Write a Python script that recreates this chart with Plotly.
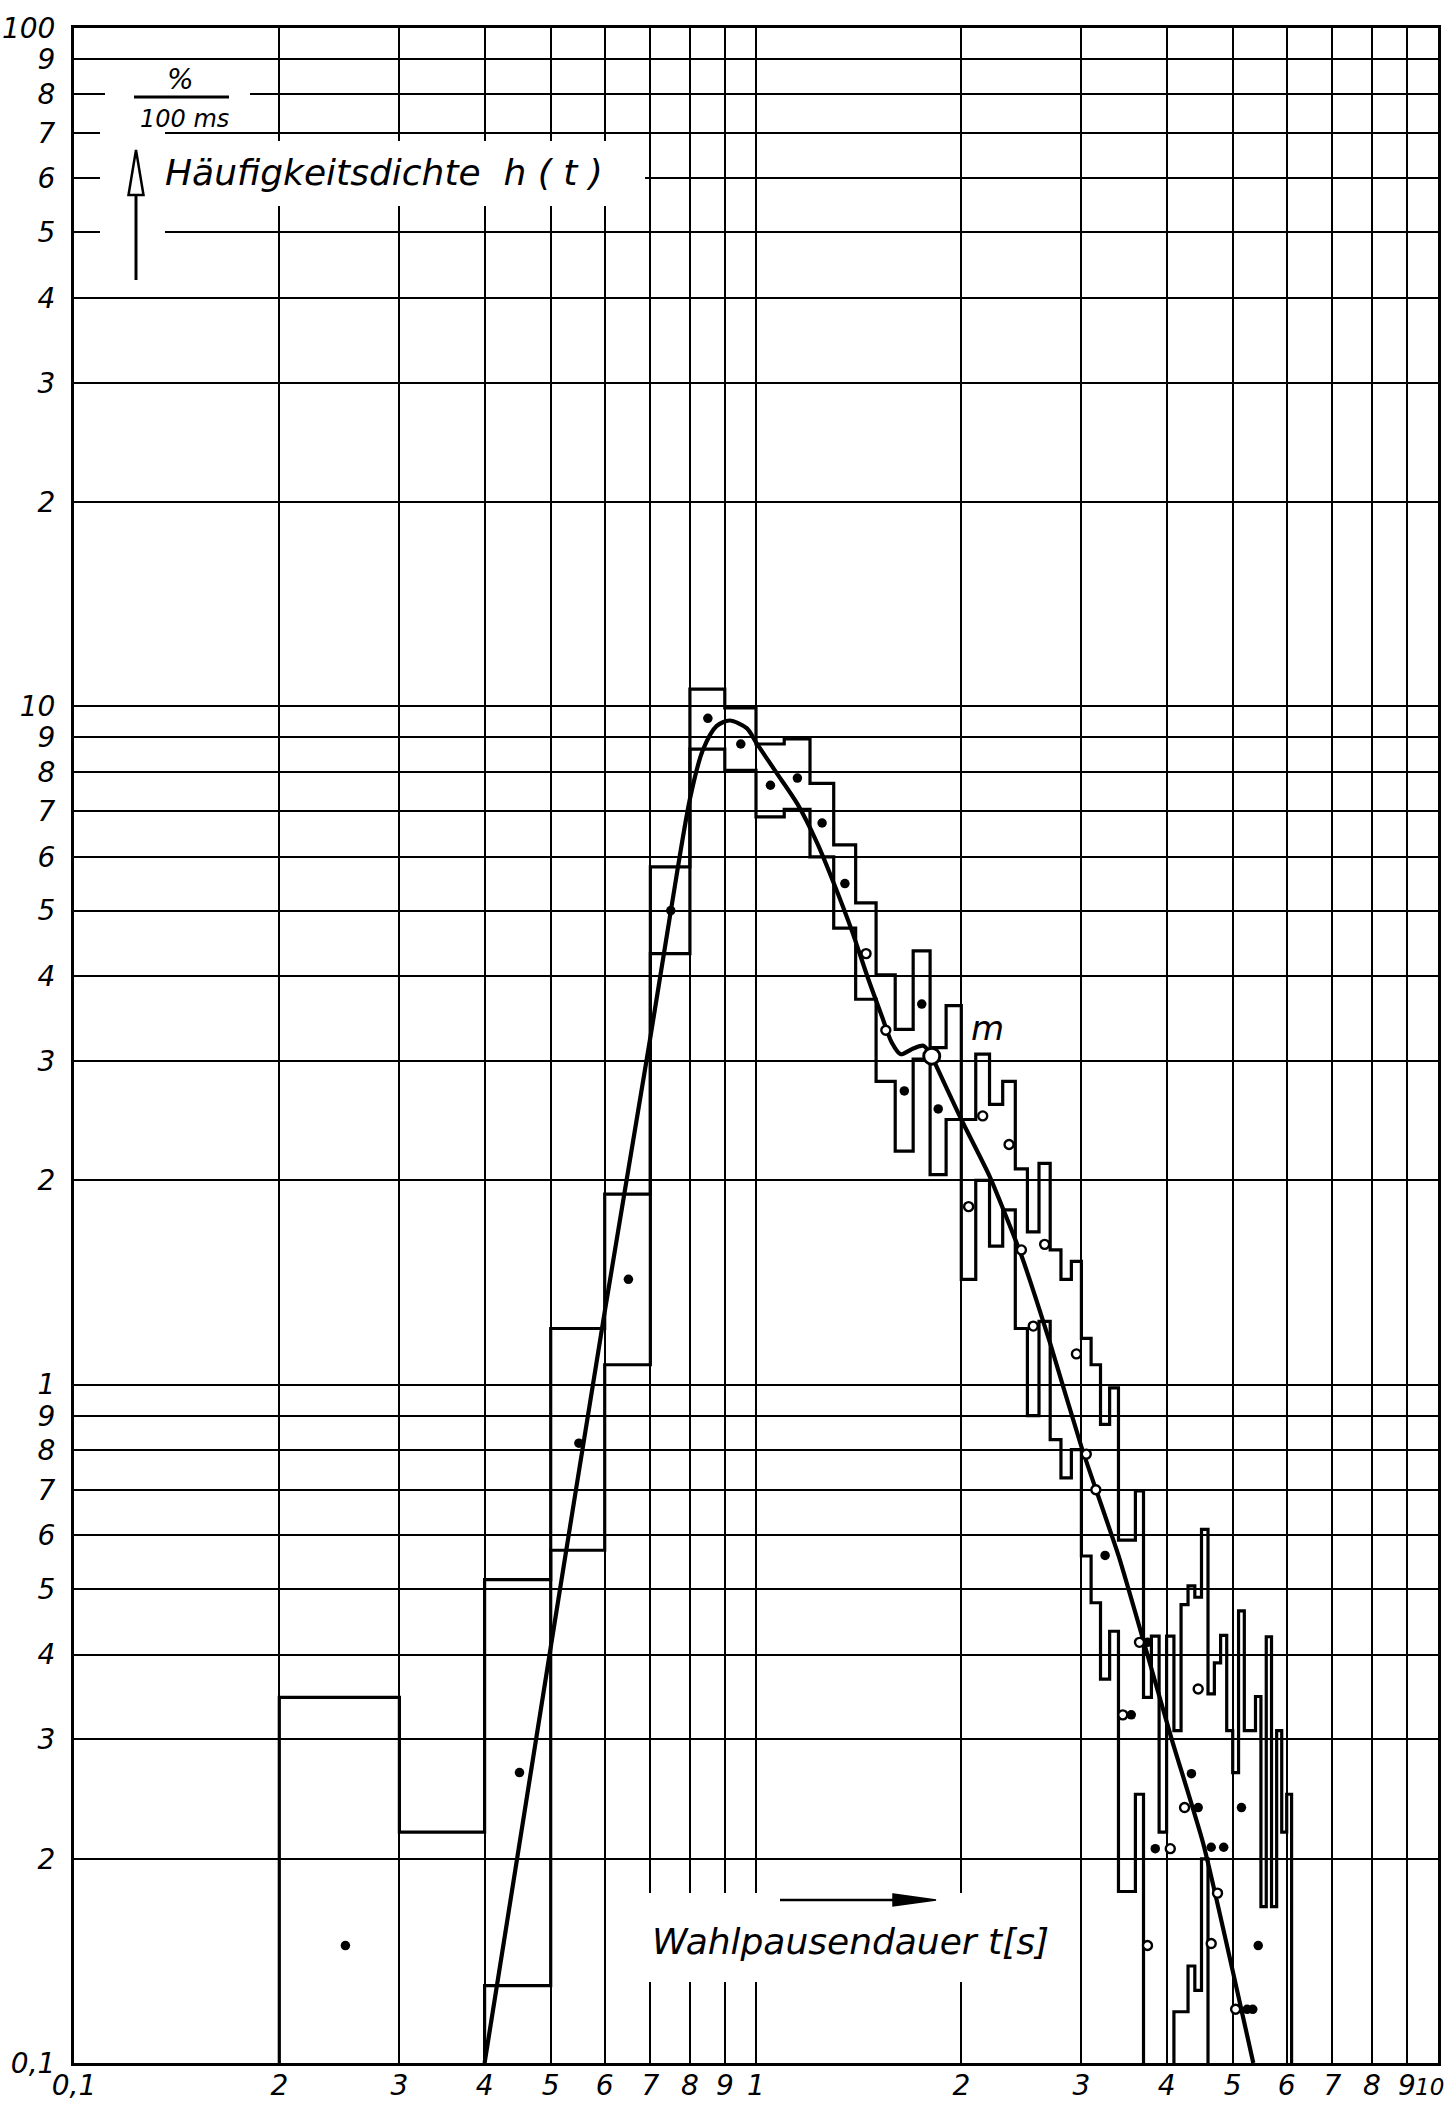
import numpy as np
import plotly.graph_objects as go

# ---------------- data ----------------
# histogram classes of 100 ms, first class starts at 0.2 s
class_start = 0.2
class_width = 0.1

# upper step line (per class)
upper_bound = [0.346, 0.219, 0.516, 1.21, 1.91, 5.8, 10.6, 9.95, 8.8, 8.95,
               7.7, 6.25, 5.13, 4.02, 3.34, 4.36, 3.14, 3.62, 2.46, 3.07,
               2.59, 2.8, 2.08, 1.68, 2.12, 1.58, 1.43, 1.52, 1.17, 1.07,
               0.874, 0.989, 0.59, 0.59, 0.697, 0.346, 0.426, 0.219, 0.426, 0.309,
               0.474, 0.505, 0.486, 0.612, 0.35, 0.389, 0.427, 0.309, 0.268, 0.464,
               0.309, 0.309, 0.347, 0.17, 0.425, 0.17, 0.309, 0.219, 0.249]

# lower step line (per class, 0 = no occurrence)
lower_bound = [0, 0, 0.13, 0.57, 1.07, 4.32, 8.65, 8.05, 6.87, 7.05,
               6.0, 4.71, 3.7, 2.8, 2.21, 3.02, 2.04, 2.46, 1.43, 2.0,
               1.6, 1.81, 1.21, 0.9, 1.24, 0.83, 0.729, 0.802, 0.559, 0.477,
               0.368, 0.433, 0.179, 0.179, 0.249, 0, 0, 0, 0, 0.119,
               0.119, 0.139, 0.128, 0.2, 0, 0, 0, 0, 0, 0,
               0, 0, 0, 0, 0, 0, 0, 0, 0]

# measured points
pts_filled_t = [0.25, 0.45, 0.55, 0.65, 0.75, 0.85, 0.95, 1.05, 1.15, 1.25, 1.35,
                1.65, 1.75, 1.85, 3.25, 3.55, 3.75, 3.85, 4.35, 4.45, 4.65, 4.85,
                5.15, 5.45, 5.25, 5.35]
pts_filled_v = [0.149, 0.268, 0.82, 1.43, 5.0, 9.6, 8.8, 7.65, 7.84, 6.73, 5.48,
                2.71, 3.64, 2.55, 0.56, 0.326, 0.417, 0.207, 0.267, 0.238, 0.208, 0.208,
                0.238, 0.149, 0.12, 0.12]
pts_open_t = [1.45, 1.55, 2.05, 2.15, 2.35, 2.45, 2.55, 2.65, 2.95, 3.05, 3.15,
              3.45, 3.65, 4.05, 4.25, 4.45, 4.75, 3.75, 4.65, 5.05]
pts_open_v = [4.32, 3.33, 1.83, 2.49, 2.26, 1.58, 1.22, 1.61, 1.11, 0.79, 0.70,
              0.326, 0.417, 0.207, 0.238, 0.356, 0.178, 0.149, 0.15, 0.12]

# fitted density curve h(t)
fit_t = [0.40, 0.50, 0.60, 0.70, 0.75, 0.80, 0.835, 0.875, 0.915, 0.97, 1.00,
         1.07, 1.15, 1.23, 1.30, 1.38, 1.46, 1.53, 1.58, 1.63, 1.70, 1.76, 1.81]
fit_v = [0.10, 0.41, 1.28, 3.25, 4.99, 7.3, 8.6, 9.35, 9.53, 9.28, 8.85,
         8.0, 7.18, 6.28, 5.49, 4.69, 3.97, 3.49, 3.2, 3.07, 3.13, 3.16, 3.05]
tail_t = [1.81, 2.0, 2.2, 2.45, 2.7, 3.0, 3.4, 3.71, 4.07, 4.53, 5.36]
tail_v = [3.05, 2.46, 2.03, 1.55, 1.15, 0.81, 0.56, 0.415, 0.30, 0.21, 0.10]

# median point m
m_t = [1.81]
m_v = [3.05]

x_tickvals = [0.1, 0.2, 0.3, 0.4, 0.5, 0.6, 0.7, 0.8, 0.9, 1, 2, 3, 4, 5, 6, 7, 8, 9, 10]
x_ticktext = ["0,1", "2", "3", "4", "5", "6", "7", "8", "9", "1", "2", "3", "4", "5",
              "6", "7", "8", "9", "10"]
y_tickvals = [0.1, 0.2, 0.3, 0.4, 0.5, 0.6, 0.7, 0.8, 0.9, 1, 2, 3, 4, 5, 6, 7, 8, 9,
              10, 20, 30, 40, 50, 60, 70, 80, 90, 100]
y_ticktext = ["0,1", "2", "3", "4", "5", "6", "7", "8", "9", "1", "2", "3", "4", "5",
              "6", "7", "8", "9", "10", "2", "3", "4", "5", "6", "7", "8", "9", "100"]

# ---------------- figure ----------------
W, H = 1447, 2108
L_PX, R_PX, T_PX, B_PX = 74, 1438, 28, 2063
FONT = "DejaVu Sans"
X_DEC = (R_PX - L_PX) / 2.0
Y_DEC = (B_PX - T_PX) / 3.0


def step_xy(vals):
    n = len(vals)
    edges = [round(class_start + i * class_width, 3) for i in range(n + 1)]
    floor = 0.03
    v = [a if a > 0 else floor for a in vals]
    xs = [edges[0]] + edges[:n] + [edges[n], edges[n]]
    ys = [floor] + v + [v[-1], floor]
    return xs, ys


# layout helpers: reference pixel -> log10 axis value
def lx(px):
    return (px - L_PX) / X_DEC - 1.0


def ly(py):
    return 2.0 - (py - T_PX) / Y_DEC


def sx(px):
    return float(10 ** lx(px))


def sy(py):
    return float(10 ** ly(py))


fig = go.Figure()

for vals in (upper_bound, lower_bound):
    xs, ys = step_xy(vals)
    fig.add_trace(go.Scatter(x=xs, y=ys, mode="lines", line_shape="hv",
                             line=dict(color="black", width=3.2), hoverinfo="skip"))

fig.add_trace(go.Scatter(x=fit_t, y=fit_v, mode="lines", line_shape="spline",
                         line=dict(color="black", width=4.2, smoothing=0.8)))
fig.add_trace(go.Scatter(x=tail_t, y=tail_v, mode="lines", line_shape="spline",
                         line=dict(color="black", width=4.2, smoothing=0.5)))

fig.add_trace(go.Scatter(x=pts_filled_t, y=pts_filled_v, mode="markers",
                         marker=dict(color="black", size=9.5, symbol="circle")))
fig.add_trace(go.Scatter(x=pts_open_t, y=pts_open_v, mode="markers",
                         marker=dict(color="white", size=9, symbol="circle",
                                     line=dict(color="black", width=2.4))))
fig.add_trace(go.Scatter(x=m_t, y=m_v, mode="markers",
                         marker=dict(color="white", size=16, symbol="circle",
                                     line=dict(color="black", width=3))))

axis_common = dict(type="log", showgrid=True, gridcolor="black", gridwidth=2,
                   showline=True, linecolor="black", linewidth=3, mirror=True,
                   ticks="", zeroline=False, automargin=False,
                   tickfont=dict(family=FONT, size=28, color="black", style="italic"))

x_ticktext_axis = x_ticktext[:-1] + [""]   # last label drawn inside the page below
fig.update_xaxes(range=[-1, 1], tickmode="array", tickvals=x_tickvals,
                 ticktext=x_ticktext_axis, ticklabelstandoff=-5, **axis_common)
fig.update_yaxes(range=[-1, 2], tickmode="array", tickvals=y_tickvals,
                 ticktext=y_ticktext, ticklabelstandoff=10, **axis_common)

shapes = []
# white label areas (grid interrupted behind lettering)
for (x0, y0, x1, y1) in [(105, 68, 250, 128), (100, 128, 165, 288),
                          (160, 141, 645, 206), (640, 1893, 1062, 1982)]:
    shapes.append(dict(type="rect", xref="x", yref="y",
                       x0=sx(x0), x1=sx(x1), y0=sy(y1), y1=sy(y0),
                       fillcolor="white", line=dict(width=0), layer="above"))
# fraction bar of unit
shapes.append(dict(type="line", xref="x", yref="y",
                   x0=sx(134), x1=sx(229), y0=sy(97), y1=sy(97),
                   line=dict(color="black", width=3), layer="above"))
# vertical arrow of y label
shapes.append(dict(type="line", xref="x", yref="y",
                   x0=sx(136), x1=sx(136), y0=sy(280), y1=sy(193),
                   line=dict(color="black", width=3), layer="above"))
shapes.append(dict(type="path", xref="x", yref="y",
                   path="M {a},{b} L {c},{d} L {e},{f} Z".format(
                       a=sx(136), b=sy(150), c=sx(128.5), d=sy(195), e=sx(143.5), f=sy(195)),
                   fillcolor="white", line=dict(color="black", width=2.5), layer="above"))
# horizontal arrow of x label
shapes.append(dict(type="line", xref="x", yref="y",
                   x0=sx(780), x1=sx(900), y0=sy(1900), y1=sy(1900),
                   line=dict(color="black", width=2.5), layer="above"))
shapes.append(dict(type="path", xref="x", yref="y",
                   path="M {a},{b} L {c},{d} L {e},{f} Z".format(
                       a=sx(893), b=sy(1894), c=sx(936), d=sy(1900), e=sx(893), f=sy(1906)),
                   fillcolor="black", line=dict(color="black", width=1.5), layer="above"))

ann_font = dict(family=FONT, color="black", style="italic")
annotations = [
    dict(text="%", xref="x", yref="y", x=lx(180), y=ly(79),
         showarrow=False, font=dict(size=28, **ann_font)),
    dict(text="100 ms", xref="x", yref="y", x=lx(184), y=ly(119),
         showarrow=False, font=dict(size=24, **ann_font)),
    dict(text="Häufigkeitsdichte  h ( t )", xref="x", yref="y",
         x=lx(163), y=ly(172), xanchor="left", showarrow=False,
         font=dict(size=36, **ann_font)),
    dict(text="Wahlpausendauer t[s]", xref="x", yref="y",
         x=lx(850), y=ly(1941), showarrow=False, font=dict(size=36, **ann_font)),
    dict(text="m", xref="x", yref="y", x=float(np.log10(m_t[0])), y=float(np.log10(m_v[0])),
         xshift=56, yshift=28, showarrow=False, font=dict(size=34, **ann_font)),
    # last x tick label, kept inside the page edge
    dict(text=x_ticktext[-1], xref="paper", yref="paper", x=(W - 1 - L_PX) / (R_PX - L_PX),
         y=0, xanchor="right", yanchor="top", yshift=-9, showarrow=False,
         font=dict(size=23, **ann_font)),
]

fig.update_layout(width=W, height=H, autosize=False,
                  margin=dict(l=L_PX, r=W - R_PX, t=T_PX, b=H - B_PX, pad=0,
                              autoexpand=False),
                  paper_bgcolor="white", plot_bgcolor="white", showlegend=False,
                  shapes=shapes, annotations=annotations,
                  font=dict(family=FONT, color="black"))

fig.write_html("out.html", config={"displayModeBar": False},
               post_script="document.body.style.margin='0';")
